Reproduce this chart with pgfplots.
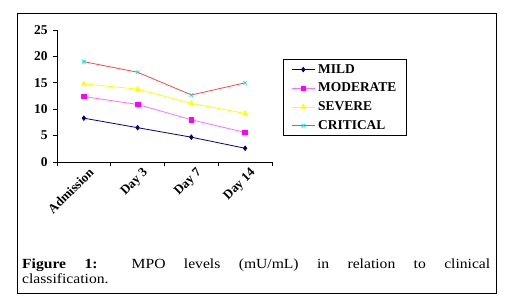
\documentclass[border=0pt]{standalone}
\usepackage{fontspec}
\setmainfont{Liberation Serif}
\newfontfamily\capfont[FakeStretch=1.12]{Liberation Serif}
\usepackage{pgfplots}
\pgfplotsset{compat=1.18}
\definecolor{mildc}{RGB}{0,0,128}
\definecolor{modc}{RGB}{255,0,255}
\definecolor{modl}{RGB}{255,110,255}
\definecolor{sevc}{RGB}{255,255,0}
\definecolor{critl}{RGB}{255,70,70}
\definecolor{critm}{RGB}{0,230,230}
\begin{document}
\begin{tikzpicture}[x=1bp,y=1bp]
\path (-57,-142) rectangle (451,162);
\draw[line width=1bp] (-39,-131) rectangle (439,149);
\begin{axis}[
  at={(0,0)}, anchor=south west,
  scale only axis, width=215bp, height=132bp,
  axis x line=bottom, axis y line=left,
  axis line style={-, black, line width=0.8bp},
  xmin=-0.5, xmax=3.5, ymin=0, ymax=25,
  ytick={0,5,...,25},
  tick align=outside, major tick length=4bp,
  tick style={black, line width=0.8bp},
  xtick={-0.5,0.5,1.5,2.5,3.5}, xticklabels={},
  extra x ticks={0,1,2,3},
  extra x tick labels={Admission,Day 3,Day 7,Day 14},
  extra x tick style={major tick length=0pt,
    tick label style={rotate=45, anchor=north east, xshift=3bp, yshift=-3bp, font=\bfseries\fontsize{13}{13}\selectfont}},
  yticklabel style={font=\bfseries\fontsize{13.5}{13.5}\selectfont, xshift=-2bp},
  /pgf/number format/assume math mode=true,
  legend style={at={(1.051,0.780)}, anchor=north west, draw=black, line width=0.8bp,
    font=\bfseries\fontsize{13.5}{14}\selectfont, row sep=4.3bp, inner xsep=8bp, inner ysep=3bp,
    /tikz/every odd column/.append style={column sep=1bp}},
  legend cell align=left,
  legend image code/.code={\draw[mark repeat=2,mark phase=2] plot coordinates {(0bp,0bp) (11.5bp,0bp) (23bp,0bp)};},
]
\addplot[color=mildc, line width=0.8bp, mark=diamond*, mark size=2.2bp, mark options={solid}] coordinates {(0,8.3)(1,6.5)(2,4.7)(3,2.6)};
\addlegendentry{MILD}
\addplot[color=modl, line width=0.8bp, mark=square*, mark size=2.3bp, mark options={solid, draw=modc, fill=modc}] coordinates {(0,12.4)(1,10.9)(2,8.0)(3,5.6)};
\addlegendentry{MODERATE}
\addplot[color=sevc, line width=0.8bp, mark=triangle*, mark size=2.6bp, mark options={solid}] coordinates {(0,14.8)(1,13.8)(2,11.1)(3,9.2)};
\addlegendentry{SEVERE}
\addplot[color=critl, line width=0.8bp, mark=x, mark size=2.5bp, mark options={solid, draw=critm}] coordinates {(0,19.0)(1,17.0)(2,12.7)(3,15.0)};
\addlegendentry{CRITICAL}
\end{axis}
\node[anchor=base west, inner sep=0] at (-35,-106) {\capfont\fontsize{14}{15}\selectfont\makebox[468bp][s]{\textbf{Figure 1:} MPO levels (mU/mL) in relation to clinical}};
\node[anchor=base west, inner sep=0] at (-35,-121) {\capfont\fontsize{14}{15}\selectfont classification.};
\end{tikzpicture}
\end{document}
